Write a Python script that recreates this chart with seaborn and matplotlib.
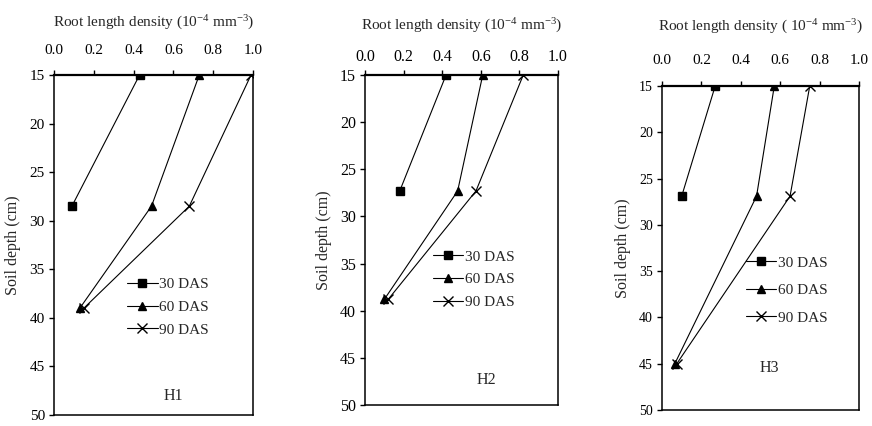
import numpy as np
import pandas as pd
import matplotlib
matplotlib.use("Agg")
import matplotlib.pyplot as plt
import seaborn as sns

# ---------------- data ----------------
series_names = ["30 DAS", "60 DAS", "90 DAS"]
panels = ["H1", "H2", "H3"]

depth_H1 = [15, 28.5, 39.0]
H1_30 = [0.43, 0.09]
H1_60 = [0.73, 0.49, 0.13]
H1_90 = [0.99, 0.68, 0.15]

depth_H2 = [15, 27.3, 38.8]
H2_30 = [0.42, 0.18]
H2_60 = [0.61, 0.48, 0.10]
H2_90 = [0.82, 0.575, 0.12]

depth_H3 = [15, 26.9, 45.0]
H3_30 = [0.27, 0.10]
H3_60 = [0.57, 0.48, 0.065]
H3_90 = [0.75, 0.65, 0.075]

x_ticks = [0.0, 0.2, 0.4, 0.6, 0.8, 1.0]
y_ticks = [15, 20, 25, 30, 35, 40, 45, 50]

panel_data = {
    "H1": (depth_H1, [H1_30, H1_60, H1_90]),
    "H2": (depth_H2, [H2_30, H2_60, H2_90]),
    "H3": (depth_H3, [H3_30, H3_60, H3_90]),
}

titles = {
    "H1": r"Root length density (10$^{\mathregular{-4}}$ mm$^{\mathregular{-3}}$)",
    "H2": r"Root length density (10$^{\mathregular{-4}}$ mm$^{\mathregular{-3}}$)",
    "H3": r"Root length density ( 10$^{\mathregular{-4}}$ mm$^{\mathregular{-3}}$)",
}

# ---------------- style ----------------
sns.set_style("white")
plt.rcParams["font.family"] = ["Liberation Serif", "DejaVu Serif"]
plt.rcParams["mathtext.fontset"] = "custom"
plt.rcParams["mathtext.rm"] = "Liberation Serif"
plt.rcParams["mathtext.it"] = "Liberation Serif:italic"

fig = plt.figure(figsize=(8.72, 4.26), dpi=100)

W, H = 872, 426
# pixel boxes: left, right, top, bottom
boxes = {
    "H1": (54, 253, 75, 415),
    "H2": (365, 558, 75, 405),
    "H3": (662, 859, 86, 410),
}
xtick_fs = {"H1": 11, "H2": 11.5, "H3": 11}
ytick_fs = {"H1": 11, "H2": 11.5, "H3": 10}
tick_pad_x = {"H1": 9.5, "H2": 3.5, "H3": 10}
label_pad_x = {"H1": 12, "H2": 14, "H3": 16.5}
legend_pos = {"H1": (0.367, 0.405), "H2": (0.352, 0.47), "H3": (0.426, 0.475)}
legend_spacing = {"H1": 0.6, "H2": 0.6, "H3": 0.9}
tag_pos = {"H1": (0.60, 0.056), "H2": (0.627, 0.076), "H3": (0.543, 0.13)}

markers = {"30 DAS": "s", "60 DAS": "^", "90 DAS": "x"}
msizes = {"30 DAS": 5.5, "60 DAS": 6.0, "90 DAS": 6.5}

for p in panels:
    l, r, t, b = boxes[p]
    ax = fig.add_axes([l / W, (H - b) / H, (r - l) / W, (b - t) / H])
    depths, vals = panel_data[p]
    for name, v in zip(series_names, vals):
        df = pd.DataFrame({"depth": depths[: len(v)], "density": v})
        sns.lineplot(
            data=df, x="density", y="depth", estimator=None, sort=False,
            color="black", marker=markers[name], markersize=msizes[name],
            markeredgecolor="black", markerfacecolor="black",
            markeredgewidth=1.0, linewidth=0.8, ax=ax, label=name,
        )

    ax.set_xlim(0, 1.0)
    ax.set_ylim(50, 15)
    ax.set_xticks(x_ticks)
    ax.set_xticklabels([f"{v:.1f}" for v in x_ticks])
    ax.set_yticks(y_ticks)
    ax.xaxis.tick_top()
    ax.xaxis.set_label_position("top")
    ax.set_xlabel(titles[p], fontsize=11, labelpad=label_pad_x[p])
    ax.set_ylabel("Soil depth (cm)", fontsize=11.5, labelpad=6)
    ax.tick_params(axis="x", which="both", direction="out", length=3.6, width=1,
                   pad=tick_pad_x[p], labelsize=xtick_fs[p], colors="black", top=True, bottom=False)
    ax.tick_params(axis="y", direction="out", length=3.6, width=1, pad=3,
                   labelsize=ytick_fs[p], colors="black", left=True)
    for s in ["left", "right", "bottom"]:
        ax.spines[s].set_color("black")
        ax.spines[s].set_linewidth(1.1)
    ax.spines["top"].set_color("black")
    ax.spines["top"].set_linewidth(1.6)

    handles, labels = ax.get_legend_handles_labels()
    leg = ax.legend(handles, labels, loc="upper left", bbox_to_anchor=legend_pos[p],
                    frameon=False, fontsize=11, handlelength=2.0, handletextpad=0.1,
                    labelspacing=legend_spacing[p], borderpad=0, borderaxespad=0)
    tx, ty = tag_pos[p]
    ax.text(tx, ty, p, transform=ax.transAxes, ha="center", va="center", fontsize=11.5)

fig.savefig("out.png", dpi=100)
